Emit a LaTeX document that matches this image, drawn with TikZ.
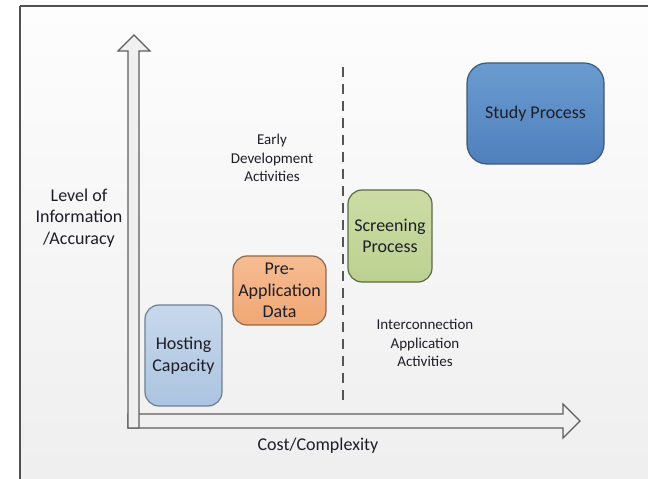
\documentclass[tikz,border=0pt]{standalone}
\usepackage{fontspec}
\setmainfont{Carlito}
\definecolor{framec}{HTML}{505050}
\definecolor{bgtop}{HTML}{FDFDFD}
\definecolor{bgbot}{HTML}{EEEEEE}
\definecolor{axisfill}{HTML}{F0F0F0}
\definecolor{axisline}{HTML}{5E5E5E}
\definecolor{txt}{HTML}{1E1E28}
\definecolor{hostA}{HTML}{C8D8EB}
\definecolor{hostB}{HTML}{ABC4E0}
\definecolor{hostD}{HTML}{6E7F91}
\definecolor{preA}{HTML}{F6BC92}
\definecolor{preB}{HTML}{F0A774}
\definecolor{preD}{HTML}{8C6A4E}
\definecolor{scrA}{HTML}{CBDDA6}
\definecolor{scrB}{HTML}{BCD190}
\definecolor{scrD}{HTML}{5C6B43}
\definecolor{stuA}{HTML}{6A9BD0}
\definecolor{stuB}{HTML}{4F80BC}
\definecolor{stuD}{HTML}{3C5A78}
\tikzset{
  boxstyle/.style={rectangle, rounded corners=14bp, line width=1.2bp, align=center,
    text=txt, font=\fontsize{18bp}{21.5bp}\selectfont, inner sep=0pt},
  smalltext/.style={align=center, text=txt, font=\fontsize{15bp}{18.5bp}\selectfont, inner sep=0pt},
  bigtext/.style={align=center, text=txt, font=\fontsize{18bp}{21.5bp}\selectfont, inner sep=0pt},
  axisarrow/.style={draw=axisline, fill=axisfill, line width=1.1bp, line join=miter},
  divider/.style={draw=axisline!90!black, line width=1.5bp, dash pattern=on 10bp off 7bp}
}
\begin{document}
\begin{tikzpicture}[x=1bp, y=-1bp]
\useasboundingbox (0,0) rectangle (648,479);
\fill[white] (0,0) rectangle (648,479);
% frame with background gradient
\shade[top color=bgtop, bottom color=bgbot] (20,6) rectangle (670,500);
\draw[framec, line width=2.2bp] (20,6) -- (670,6) (20,6) -- (20,500);

% axes
\coordinate (origin) at (128,428);
\coordinate (xtip) at (580,421);
\coordinate (ytip) at (134,35);
\path[axisarrow] (128,414) -- (563,414) -- (563,404) -- (xtip) -- (563,438) -- (563,428) -- (128,428) -- cycle;
\path[axisarrow] (128,428) -- (128,51) -- (118,51) -- (ytip) -- (150,51) -- (139,51) -- (139,428) -- cycle;

% dashed divider
\coordinate (dtop) at (343,67);
\coordinate (dbot) at (343,405);
\draw[divider] (dtop) -- (dbot);

% boxes
\node[boxstyle, draw=hostD, top color=hostA, bottom color=hostB,
  minimum width=77bp, minimum height=101bp] (host) at (183.5,355.5) {Hosting\\Capacity};
\node[boxstyle, draw=preD, top color=preA, bottom color=preB,
  minimum width=93bp, minimum height=69bp] (pre) at (279.5,290.5) {Pre-\\Application\\Data};
\node[boxstyle, draw=scrD, top color=scrA, bottom color=scrB,
  minimum width=84bp, minimum height=92bp] (scr) at (390,236) {Screening\\Process};
\node[boxstyle, rounded corners=20bp, draw=stuD, top color=stuA, bottom color=stuB,
  minimum width=137bp, minimum height=101bp] (study) at (535.5,113.5) {Study Process};

% labels
\node[bigtext] (ylabel) at (79,218) {Level of\\Information\\/Accuracy};
\node[smalltext] (early) at (272,158) {Early\\Development\\Activities};
\node[smalltext] (inter) at (425,343) {Interconnection\\Application\\Activities};
\node[bigtext] (xlabel) at (318,446) {Cost/Complexity};
\end{tikzpicture}
\end{document}
